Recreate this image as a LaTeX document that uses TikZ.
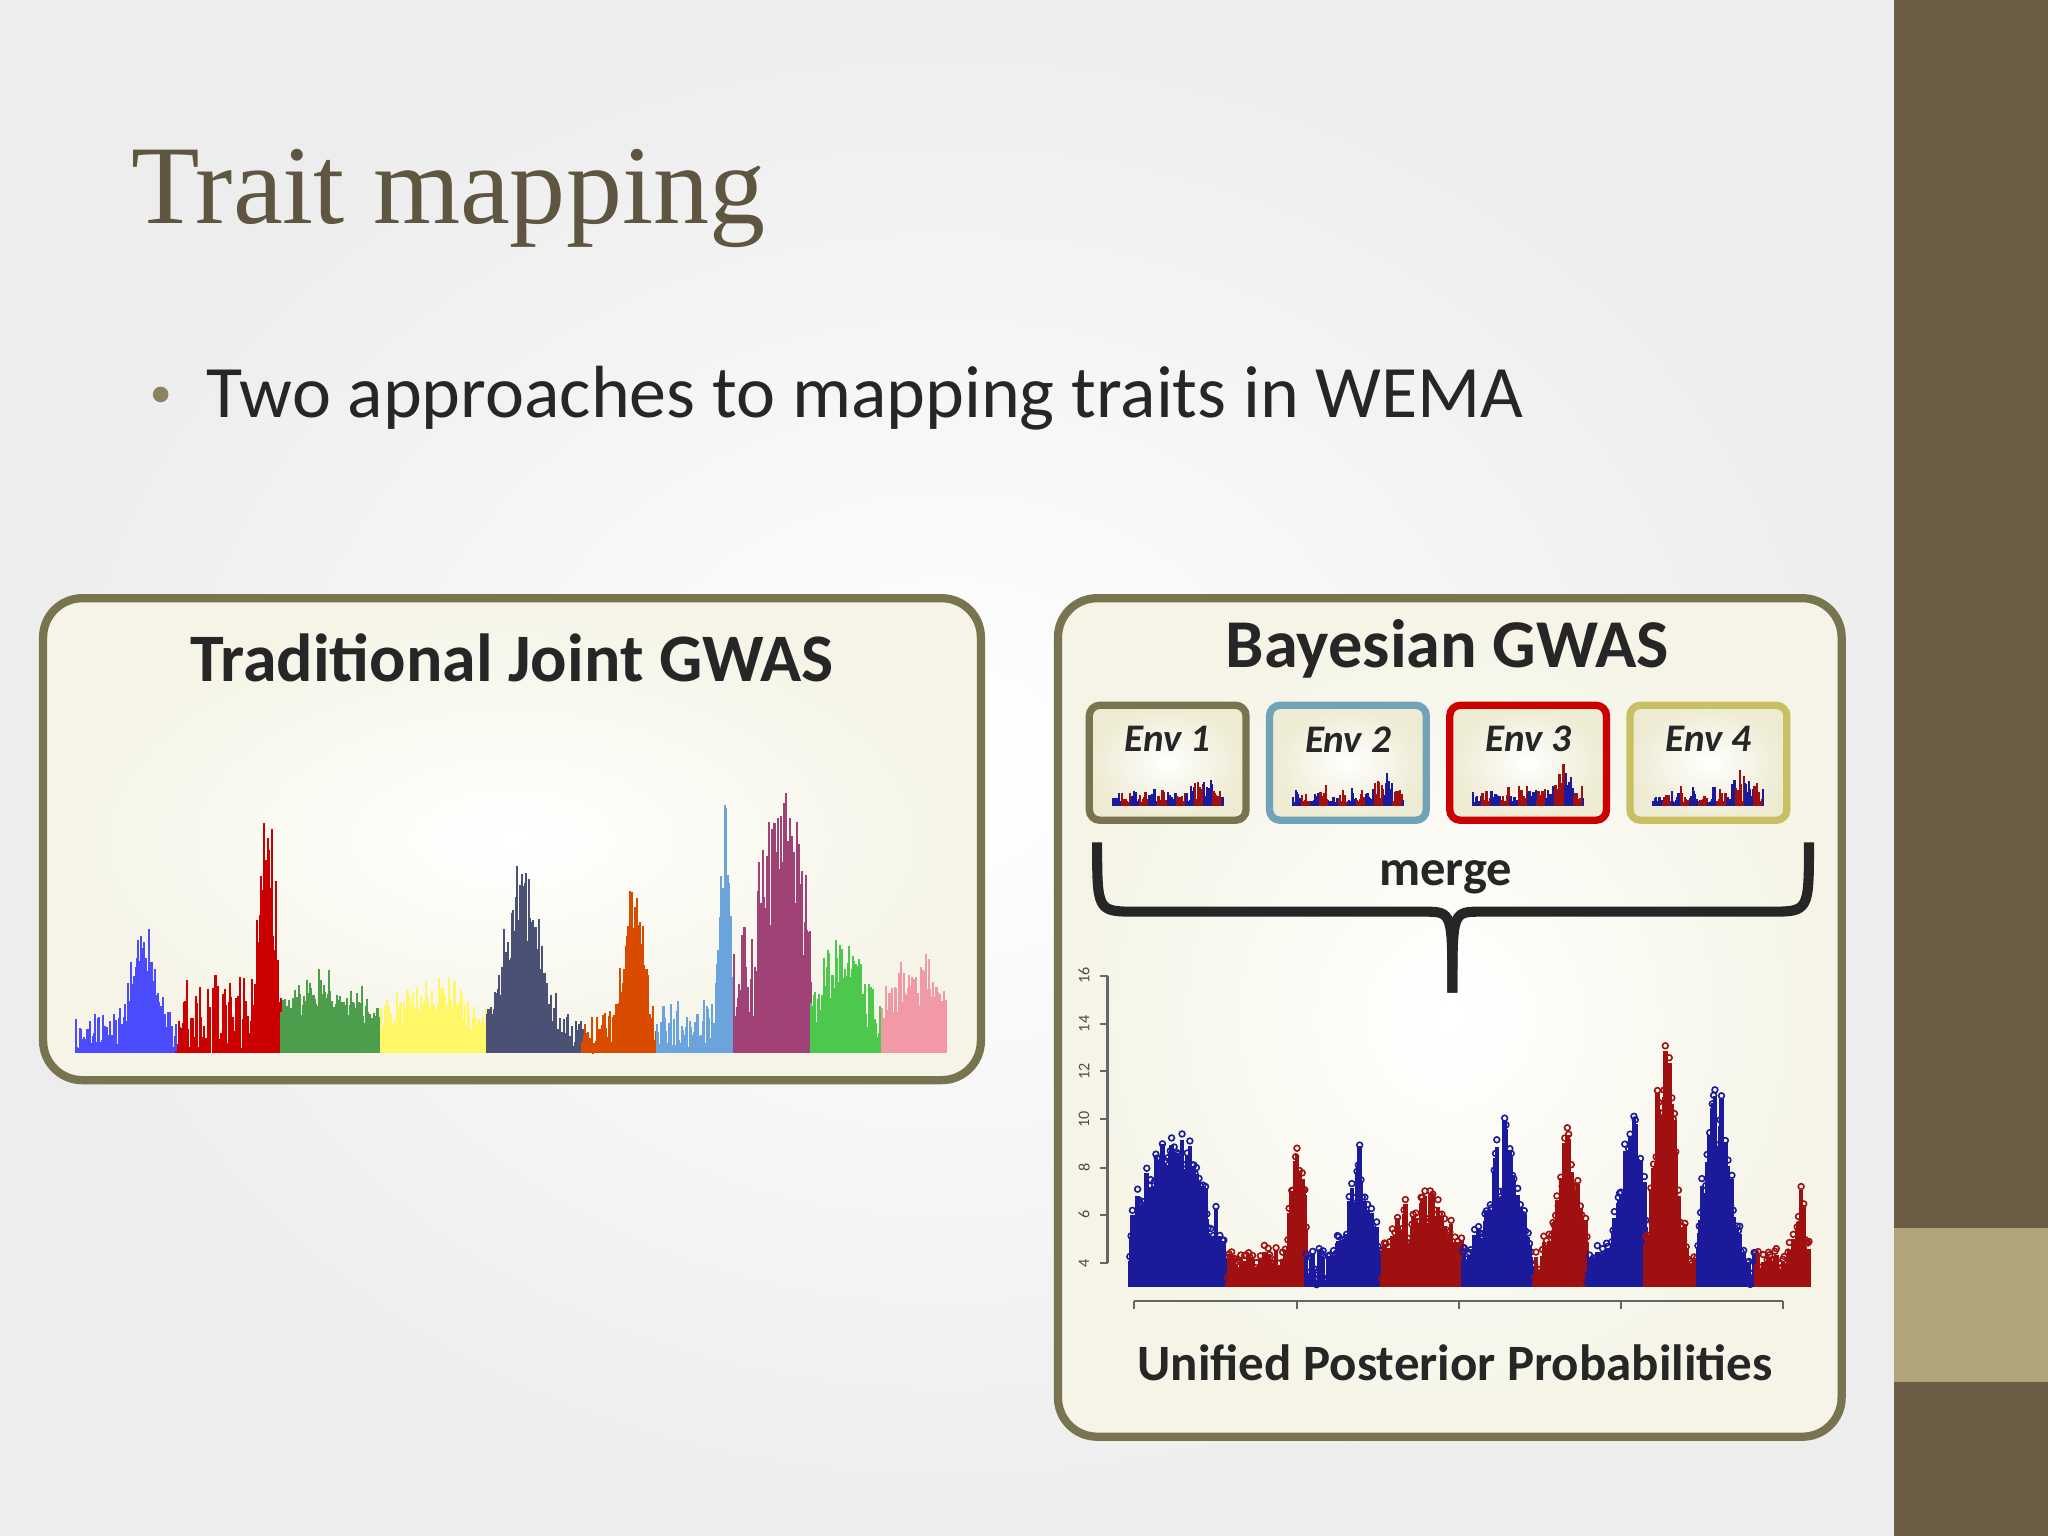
\documentclass[tikz,border=0pt]{standalone}
\usepackage{fontspec}
\setmainfont{Carlito}
\newfontfamily\titlefont{Liberation Serif}
\begin{document}
\begin{tikzpicture}[x=0.01cm,y=-0.01cm,
  panel/.style={draw=pborder,line width=1.8pt,rounded corners=0.3cm,inner color=white,outer color=cream!55},
  envbox/.style={line width=1.6pt,rounded corners=0.08cm,inner color=white,outer color=cream},
  envlab/.style={font=\bfseries\itshape\fontsize{8.5}{9}\selectfont,text=black!85}]
\definecolor{pborder}{HTML}{77744F}
\definecolor{cream}{HTML}{EDEBD2}
\definecolor{titlec}{HTML}{5E5640}
\definecolor{sidebar}{HTML}{6B5D45}
\definecolor{accent}{HTML}{B0A47A}
\definecolor{dblue}{HTML}{1A1A9A}
\definecolor{dred}{HTML}{A01010}
\useasboundingbox (0,0) rectangle (1568,1176);
\shade[inner color=white,outer color=black!7] (0,0) rectangle (1450,1176);
\fill[sidebar] (1450,0) rectangle (1568,1176);
\fill[accent] (1450,940) rectangle (1568,1058);
\node[anchor=west,font=\titlefont\fontsize{24.4}{27}\selectfont,text=titlec] (title) at (88,152) {Trait mapping};
\fill[accent!80!black] (123,302) circle (6);
\node[anchor=west,font=\fontsize{16.1}{19}\selectfont,text=black!85] (bullet) at (146,305) {Two approaches to mapping traits in WEMA};
% left panel
\draw[panel] (33,458) rectangle (751,827);
\node[font=\bfseries\fontsize{14.8}{17}\selectfont,text=black!85] (ltitle) at (392,504) {Traditional Joint GWAS};
\pgfmathsetseed{7}
\foreach \a/\b/\c/\px/\ph/\w/\bh in {
 58/135/{blue!70}/110/90/12/30,
 135/215/{red!80!black}/205/150/8/60,
 215/292/{green!45!black!70}/250/45/40/25,
 292/373/{yellow!60}/330/40/40/25,
 373/446/{cyan!30!blue!50!black}/400/130/18/30,
 446/503/{orange!70!red!85!black}/485/120/10/30,
 503/562/{cyan!60!blue!60}/555/165/6/40,
 562/621/{magenta!60!black}/600/145/18/100,
 621/675/{green!70!black!70}/645/70/20/35,
 675/724/{pink!80!purple}/700/60/25/25}{
 \foreach \x in {\a,...,\b}{
  \pgfmathsetmacro\h{\bh*rnd+\ph*exp(-((\x-\px)/\w)^2)*(0.6+0.4*rnd)}
  \draw[\c,line width=0.45pt] (\x,806) -- (\x,806-\h);
 }}
% right panel
\draw[panel] (810,458) rectangle (1410,1100);
\node[font=\bfseries\fontsize{14.9}{17}\selectfont,text=black!85] (rtitle) at (1108,497) {Bayesian GWAS};
\foreach \i/\xl/\col in {1/834/pborder,2/972/{cyan!40!gray},3/1110/{red!80!black},4/1248/{yellow!50!gray}}{
  \draw[envbox,draw=\col] (\xl,540) rectangle (\xl+120,628);
  \node[envlab] (env\i) at (\xl+60,566) {Env \i};
  \foreach \x in {0,1,...,84}{
    \pgfmathsetmacro\h{3+14*rnd*rnd+22*exp(-((\x-70)/8)^2)*rnd}
    \pgfmathtruncatemacro\m{mod(\x,14)<7?1:0}
    \ifnum\m=1 \def\cc{dblue}\else\def\cc{dred}\fi
    \draw[\cc,line width=0.5pt] (\xl+18+\x,617) -- (\xl+18+\x,617-\h);
  }
}
% brace
\coordinate (bl) at (840,645);
\coordinate (br) at (1385,645);
\coordinate (bt) at (1112,760);
\draw[line width=2.2pt,black!85,line join=round] (bl) .. controls (840,698) .. (870,698) -- (1090,698) .. controls (1112,698) .. (bt);
\draw[line width=2.2pt,black!85,line join=round] (br) .. controls (1385,698) .. (1355,698) -- (1134,698) .. controls (1112,698) .. (bt);
\node[font=\bfseries\fontsize{11}{12}\selectfont,text=black!85] (merge) at (1107,672) {merge};
% axes
\draw[black!60,line width=0.5pt] (848,747) -- (848,967);
\foreach \v/\y in {4/967,6/930,8/894,10/857,12/820,14/784,16/747}{
  \draw[black!60] (848,\y) -- (842,\y);
  \node[rotate=90,font=\fontsize{3.5}{4}\selectfont,text=black!70] at (830,\y) {\v};
}
\draw[black!60,line width=0.5pt] (868,996) -- (1365,996);
\foreach \x in {868,993,1117,1241,1365}{\draw[black!60] (\x,996) -- (\x,1002);}
\pgfmathsetseed{3}
\foreach \a/\b/\c/\px/\ph/\w in {
 865/940/dblue/900/6/30,
 940/1000/dred/995/5.5/8,
 1000/1058/dblue/1040/4.5/12,
 1058/1120/dred/1090/3/25,
 1120/1175/dblue/1150/6/15,
 1175/1215/dred/1200/6/12,
 1215/1260/dblue/1250/7/12,
 1260/1300/dred/1275/11/10,
 1300/1345/dblue/1315/8/12,
 1345/1385/dred/1380/4/5}{
 \foreach \x in {\a,...,\b}{
  \pgfmathsetmacro\h{(1.5*rnd+\ph*exp(-((\x-\px)/\w)^2)*(0.4+0.6*rnd))*18.3}
  \draw[\c,line width=1pt] (\x,985) -- (\x,985-\h);
  \draw[\c,line width=0.35pt] (\x,985-\h-6*rnd) circle (2.2);
 }}
\node[font=\bfseries\fontsize{11.1}{12}\selectfont,text=black!85] (upp) at (1114,1043) {Unified Posterior Probabilities};
\end{tikzpicture}
\end{document}
